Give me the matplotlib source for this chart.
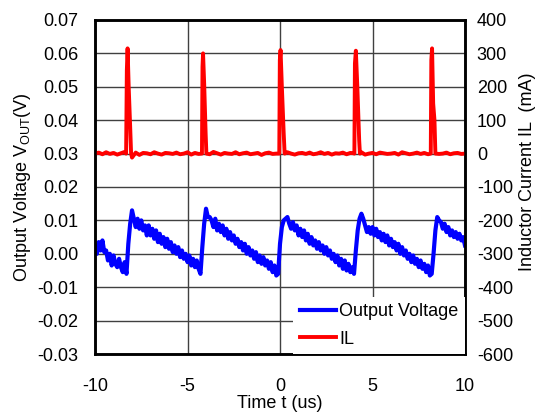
import numpy as np
import matplotlib
matplotlib.use('Agg')
from matplotlib import pyplot as plt

plt.rcParams['font.family'] = ['Liberation Sans', 'DejaVu Sans']
plt.rcParams['axes.unicode_minus'] = False

# 输出电压, 每 0.1 us 一个点 (mV)
t_v = np.round(np.arange(-10.0, 10.001, 0.1), 2)
v_out_mv = [2, 0, 3.5, 1, 4, 0.5, 1, -2, 0, -3.5, -0.5, -3, -4, -1.5, -4, -5.5, -2.5, -6,
            3, 9, 13,
            10.5, 8, 10.5, 7.5, 10, 7, 8.5, 5.5, 8.5, 5.5, 7.5, 4.5, 7, 3.5, 6, 3, 5, 2, 4.5, 1.5,
            3.5, 0.5, 2.5, 0, 2, -1, 1, -1.5, 0, -2.5, -0.5, -3.5, -1.5, -4, -2, -4.5, -6,
            2, 9, 13.5, 11, 11,
            10, 8, 10.5, 7, 9, 6.5, 8.5, 5.5, 7.5, 4.5, 6.5, 4, 5.5, 3, 4.5, 2, 3.5, 1, 3, 0,
            2, -0.5, 1, -1.5, 0.5, -2.5, -0.5, -3, -1, -3.5, -2, -4.5, -2.5, -5.5, -3.5, -6.5, -6,
            3, 8, 10, 10.5, 11, 9,
            7.5, 9.5, 7, 8.5, 5.5, 7.5, 5, 7, 4, 6, 3, 5, 2.5, 4, 1.5, 3.5, 1, 2.5, 0, 2,
            -0.5, 1, -1.5, 0, -2.5, -0.5, -3.5, -1.5, -4.5, -2, -5, -3, -5.5, -4, -6,
            1, 7, 10.5, 12, 10.5,
            8.5, 6.5, 8, 6, 8, 5.5, 7.5, 5, 6.5, 4, 6, 3.5, 5.5, 2.5, 4.5, 2, 3.5, 1, 3, 0,
            2, -0.5, 1, -1.5, 0, -2.5, -0.5, -3, -1.5, -4, -2, -4.5, -3, -5.5, -3.5, -6.5, -6,
            0, 7, 11, 10, 9.5,
            7.5, 9, 6.5, 8, 5.5, 7, 5, 6.5, 4.5, 6, 4, 5, 2.5]
v_out = np.array(v_out_mv) / 1000.0

# 电感电流基线, 每 0.2 us 一个点 (mA)
t_base = np.round(np.arange(-10.0, 10.001, 0.2), 2)
il_base = [0, 3, -2, 4, -1, 2, -3, 1, 5, -2, 0, 3, -4, 2, 1, -2, 4, 0, -3, 2,
           1, -1, 3, -2, 0, 4, -3, 2, -1, 3, 0, -2, 5, 1, -3, 2, 0, -1, 4, -2,
           1, 3, -2, 0, 2, -4, 1, 3, -1, 0, 2, -2, 4, 0, -3, 1, 2, -1, 3, -2,
           0, 4, -1, 2, -3, 1, 0, 3, -2, 2, 1, -1, 4, -3, 0, 2, -2, 3, 1, -1,
           0, 2, -3, 4, 1, -2, 0, 3, -1, 2, -2, 1, 4, -1, 0, 3, -2, 1, 2, -1, 0]

# 尖峰 (us, mA)
spike_t = [[-8.32, -8.28, -8.24, -8.18, -8.10, -8.05, -8.00],
           [-4.22, -4.19, -4.16, -4.10, -4.02, -3.98],
           [-0.04, -0.01, 0.03, 0.10, 0.20, 0.25],
           [4.02, 4.05, 4.10, 4.18, 4.28, 4.32],
           [8.15, 8.18, 8.22, 8.28, 8.35, 8.40]]
spike_ma = [[0, 250, 315, 200, 80, 0, -12],
            [0, 260, 300, 210, 60, 0],
            [0, 280, 310, 200, 60, 0],
            [0, 270, 308, 200, 40, 0],
            [0, 280, 315, 150, 100, 0]]

# 合并基线和尖峰
keep = np.ones(len(t_base), dtype=bool)
for st in spike_t:
    keep &= ~((t_base >= st[0]) & (t_base <= st[-1]))
t_il = [t for t, k in zip(t_base, keep) if k]
il = [v for v, k in zip(il_base, keep) if k]
for st, sv in zip(spike_t, spike_ma):
    t_il += st
    il += sv
order = np.argsort(t_il)
t_il = np.array(t_il)[order]
il = np.array(il)[order]

fig = plt.figure(figsize=(5.39, 4.18), dpi=100)
ax = fig.add_axes([0.1763, 0.1531, 0.6864, 0.7991])
ax2 = ax.twinx()

l1, = ax.plot(t_v, v_out, color='#0000ff', lw=3, label='Output Voltage')
l2, = ax2.plot(t_il, il, color='#ff0000', lw=2.8, label='IL')

ax.set_xlim(-10, 10)
ax.set_ylim(-0.03, 0.07)
ax2.set_ylim(-600, 400)
ax.set_xticks([-10, -5, 0, 5, 10])
yt = np.arange(-0.03, 0.0701, 0.01)
ax.set_yticks(yt)
ax.set_yticklabels(['%.2f' % v for v in yt])
ax2.set_yticks(np.arange(-600, 401, 100))

ax.grid(True, color='#404040', lw=1)
ax.set_axisbelow(True)
ax.tick_params(axis='y', length=0, labelsize=13, pad=12)
ax.tick_params(axis='x', length=0, labelsize=13, pad=17.5)
ax2.tick_params(length=0, labelsize=13, pad=8.5)
for a in (ax, ax2):
    for s in a.spines.values():
        s.set_linewidth(1.8)

ax.set_xlabel('Time t (us)', fontsize=13, labelpad=0)
ax.set_ylabel('Output Voltage V$_{\\mathregular{OUT}}$(V)', fontsize=13)
ax.yaxis.set_label_coords(-0.169, 0.5)
ax2.set_ylabel('Inductor Current IL  (mA)', fontsize=13, rotation=90)
ax2.yaxis.set_label_coords(1.1465, 0.545)

leg = ax2.legend(handles=[l1, l2], loc='lower right', fontsize=13, frameon=True,
                 fancybox=False, edgecolor='none', facecolor='white', framealpha=1,
                 borderaxespad=0, borderpad=0.35, handlelength=2.0,
                 handletextpad=0.2, labelspacing=0.6)

plt.savefig('out.png', dpi=100)
